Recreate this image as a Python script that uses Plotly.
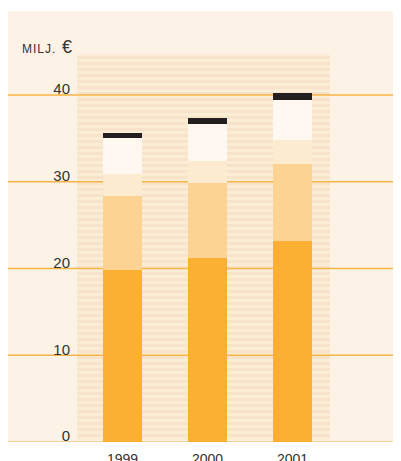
import plotly.graph_objects as go

# data (milj. €)
years = ["1999", "2000", "2001"]
seg1 = [19.8, 21.2, 23.2]   # dark orange
seg2 = [8.6, 8.6, 8.9]      # mid peach
seg3 = [2.5, 2.6, 2.7]      # light peach
seg4 = [4.2, 4.3, 4.6]      # near-white
seg5 = [0.5, 0.6, 0.8]      # black cap
yticks = [0, 10, 20, 30, 40]

colors = ["#FBB034", "#FDD394", "#FDEBD0", "#FEF8F0", "#231F20"]

fig = go.Figure()
for vals, c in zip([seg1, seg2, seg3, seg4, seg5], colors):
    fig.add_trace(go.Bar(x=years, y=vals, marker_color=c, marker_line_width=0, width=0.46))

# the page body has an 8px margin, so work in page pixels and shift
OFF = 8
L, T, H = 70, 3, 431
W = 401 - L
def px(p):
    return (p - OFF - L) / W
def py(p):
    return (T + H - (p - OFF)) / H

shapes = []
# cream panel
shapes.append(dict(type="rect", xref="paper", yref="paper", x0=px(8), x1=1, y0=py(442), y1=py(11),
                   fillcolor="#FCF3E6", line_width=0, layer="below"))
# blurred stripe texture behind the bars
shapes.append(dict(type="rect", xref="paper", yref="paper", x0=px(77), x1=px(330), y0=py(440), y1=py(54),
                   fillcolor="#FCEDD6", line_width=0, layer="below"))
for s in range(56, 438, 6):
    shapes.append(dict(type="rect", xref="paper", yref="paper", x0=px(77), x1=px(330), y0=py(s + 3), y1=py(s),
                       fillcolor="#F7E3C9", line_width=0, layer="below"))
# grid lines running across the whole panel
for v in yticks:
    shapes.append(dict(type="line", xref="paper", yref="y", x0=px(8), x1=1, y0=v, y1=v,
                       line=dict(color="#F7C27A" if v == 0 else "#F8B444", width=1.3), layer="below"))

fig.update_layout(
    width=401, height=461,
    margin=dict(l=L, r=0, t=T, b=461 - T - H),
    paper_bgcolor="white", plot_bgcolor="rgba(0,0,0,0)",
    barmode="stack", showlegend=False,
    font=dict(family="Liberation Sans, Arial", color="#333333"),
    shapes=shapes,
    xaxis=dict(range=[-0.5235, -0.5235 + W / 85], showgrid=False, zeroline=False, showline=False, ticks="",
               tickfont=dict(size=14), ticklabelstandoff=7),
    yaxis=dict(range=[0, H / 8.675], tickvals=yticks, showgrid=False, zeroline=False, showline=False,
               ticks="", tickfont=dict(size=15), ticklabelshift=-6, ticklabelstandoff=7),
    annotations=[dict(text="M\u200aI\u200aL\u200aJ\u200a.  <span style='font-size:18px'>€</span>",
                      xref="paper", yref="paper",
                      x=px(20), y=py(47), xanchor="left", yanchor="middle", showarrow=False,
                      font=dict(size=12, color="#333333"))],
)

fig.write_html("out.html")
